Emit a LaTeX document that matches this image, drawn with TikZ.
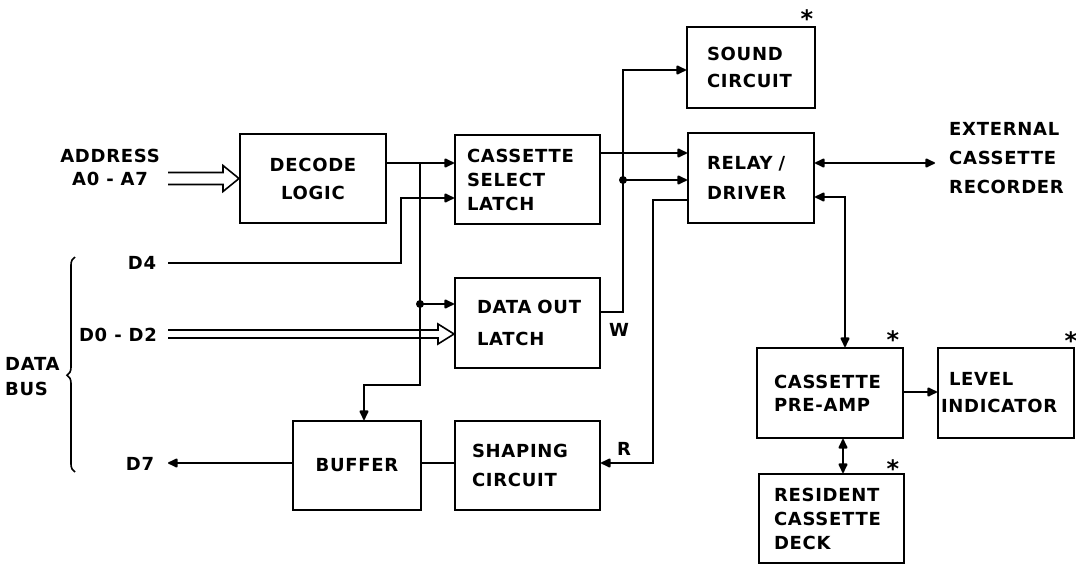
\documentclass[tikz,border=0pt]{standalone}
\usepackage{fontspec}
\setmainfont{DejaVu Sans}[LetterSpace=4]
\usetikzlibrary{arrows.meta,decorations.pathreplacing,calc}
\begin{document}
\begin{tikzpicture}[x=1pt,y=-1pt,
  lab/.style={font=\bfseries\fontsize{18}{#1}\selectfont, inner sep=0pt},
  lab/.default=24,
  box/.style={draw, line width=2pt, inner ysep=0pt, font=\bfseries\fontsize{18}{#1}\selectfont},
  box/.default=24,
  star/.style={font=\bfseries\fontsize{24}{24}\selectfont, inner sep=0pt},
  wire/.style={line width=2pt},
  tip/.style={wire, -{Latex[length=12pt,width=11pt,round]}},
  bitip/.style={wire, {Latex[length=12pt,width=11pt,round]}-{Latex[length=12pt,width=11pt,round]}},
  hbus/.style 2 args={line width=1.6pt, line join=miter,
    to path={($(\tikztostart)+(0,-#1)$) -- ($(\tikztotarget)+(-16,-#1)$) -- ($(\tikztotarget)+(-16,-#2)$)
      -- (\tikztotarget) -- ($(\tikztotarget)+(-16,#2)$) -- ($(\tikztotarget)+(-16,#1)$) -- ($(\tikztostart)+(0,#1)$)}},
  dotj/.style={circle, fill, inner sep=0pt, minimum size=8pt}
]
\useasboundingbox (0,0) rectangle (1076,565);

% ---------- boxes ----------
\node[box=28, minimum width=146, minimum height=89, align=center] (dec) at (313,178.5) {DECODE\\LOGIC};
\node[box=24, minimum width=145, minimum height=89, inner xsep=12pt, text width=121pt, align=left] (csl) at (527.5,179.5) {CASSETTE\\SELECT\\LATCH};
\node[box=27, minimum width=128, minimum height=81, inner xsep=20pt, text width=88pt, align=left] (snd) at (751,67.5) {SOUND\\CIRCUIT};
\node[box=30, minimum width=126, minimum height=90, inner xsep=19pt, text width=88pt, align=left] (rly) at (751,178) {RELAY~/\\DRIVER};
\node[box=32, minimum width=145, minimum height=90, inner xsep=22pt, text width=101pt, align=left] (dol) at (527.5,323) {DATA~OUT\\LATCH};
\node[box=24, minimum width=128, minimum height=89, align=center] (buf) at (357,465.5) {BUFFER};
\node[box=29, minimum width=145, minimum height=89, inner xsep=17pt, text width=111pt, align=left] (shp) at (527.5,465.5) {SHAPING\\CIRCUIT};
\node[box=23, minimum width=146, minimum height=90, inner xsep=17pt, text width=112pt, align=left] (pre) at (830,393) {CASSETTE\\PRE-AMP};
\node[box=27, minimum width=136, minimum height=90, inner xsep=3pt, text width=130pt, align=left] (lvl) at (1006,393) {\hspace{8pt}LEVEL\\INDICATOR};
\node[box=24, minimum width=145, minimum height=89, inner xsep=15pt, text width=115pt, align=left] (res) at (831.5,518.5) {RESIDENT\\CASSETTE\\DECK};

% ---------- asterisks ----------
\node[star] (s1) at (807,19) {*};
\node[star] (s2) at (893,340) {*};
\node[star] (s3) at (1071,341) {*};
\node[star] (s4) at (893,469) {*};

% ---------- outside labels ----------
\node[lab=23, align=center] (addr) at (110,167) {ADDRESS\\A0 - A7};
\node[lab] (lD4) at (142,263) {D4};
\node[lab] (lD02) at (118,335) {D0 - D2};
\node[lab] (lD7) at (140,464) {D7};
\node[lab=25, align=left, anchor=west] (dbus) at (5,377) {DATA\\BUS};
\node[lab=29, align=left, anchor=west] (extL) at (949,158) {EXTERNAL\\CASSETTE\\RECORDER};
\node[lab] (lW) at (619,330) {W};
\node[lab] (lR) at (624,449) {R};

% ---------- brace ----------
\draw[line width=1.6pt, decorate, decoration={brace, amplitude=8pt, aspect=0.45}] (75,472) -- (75,257);

% ---------- coordinates ----------
\coordinate (aA) at (168,178.5);
\coordinate (aD) at (168,334);
\coordinate (d4) at (168,263);
\coordinate (d4b) at (401,198);
\coordinate (d7) at (168,463);
\coordinate (jA) at (420,163);
\coordinate (jB) at (420,304);
\coordinate (bB) at (364,385);
\coordinate (cR) at (600,153);
\coordinate (wB) at (623,312);
\coordinate (wT) at (623,70);
\coordinate (wJ) at (623,180);
\coordinate (rT) at (653,200);
\coordinate (rB) at (653,463);
\coordinate (ext) at (935,163);
\coordinate (rp) at (845,197);
\coordinate (pl) at (938,392);
\coordinate (pr) at (843,450);

% ---------- connectors ----------
\draw[hbus={6}{13}] (aA) to (dec.west);
\draw[hbus={4}{10}] (aD) to (dol.west |- aD);
\draw[tip] (dec.east |- jA) -- (csl.west |- jA);
\draw[tip] (jA) |- (bB) -- (bB |- buf.north);
\node[dotj] (dB) at (jB) {};
\draw[tip] (jB) -- (dol.west |- jB);
\draw[tip] (d4) -| (d4b) -- (csl.west |- d4b);
\draw[tip] (buf.west |- d7) -- (d7);
\draw[wire] (buf.east |- d7) -- (shp.west |- d7);
\draw[tip] (rly.west |- rT) -- (rT) -- (rB) -- (shp.east |- rB);
\draw[tip] (dol.east |- wB) -- (wB) -- (wT) -- (snd.west |- wT);
\node[dotj] (dW) at (wJ) {};
\draw[tip] (wJ) -- (rly.west |- wJ);
\draw[tip] (csl.east |- cR) -- (rly.west |- cR);
\draw[bitip] (rly.east |- ext) -- (ext);
\draw[bitip] (rly.east |- rp) -- (rp) -- (rp |- pre.north);
\draw[tip] (pre.east |- pl) -- (lvl.west |- pl);
\draw[bitip] (pr |- pre.south) -- (pr |- res.north);
\end{tikzpicture}
\end{document}
